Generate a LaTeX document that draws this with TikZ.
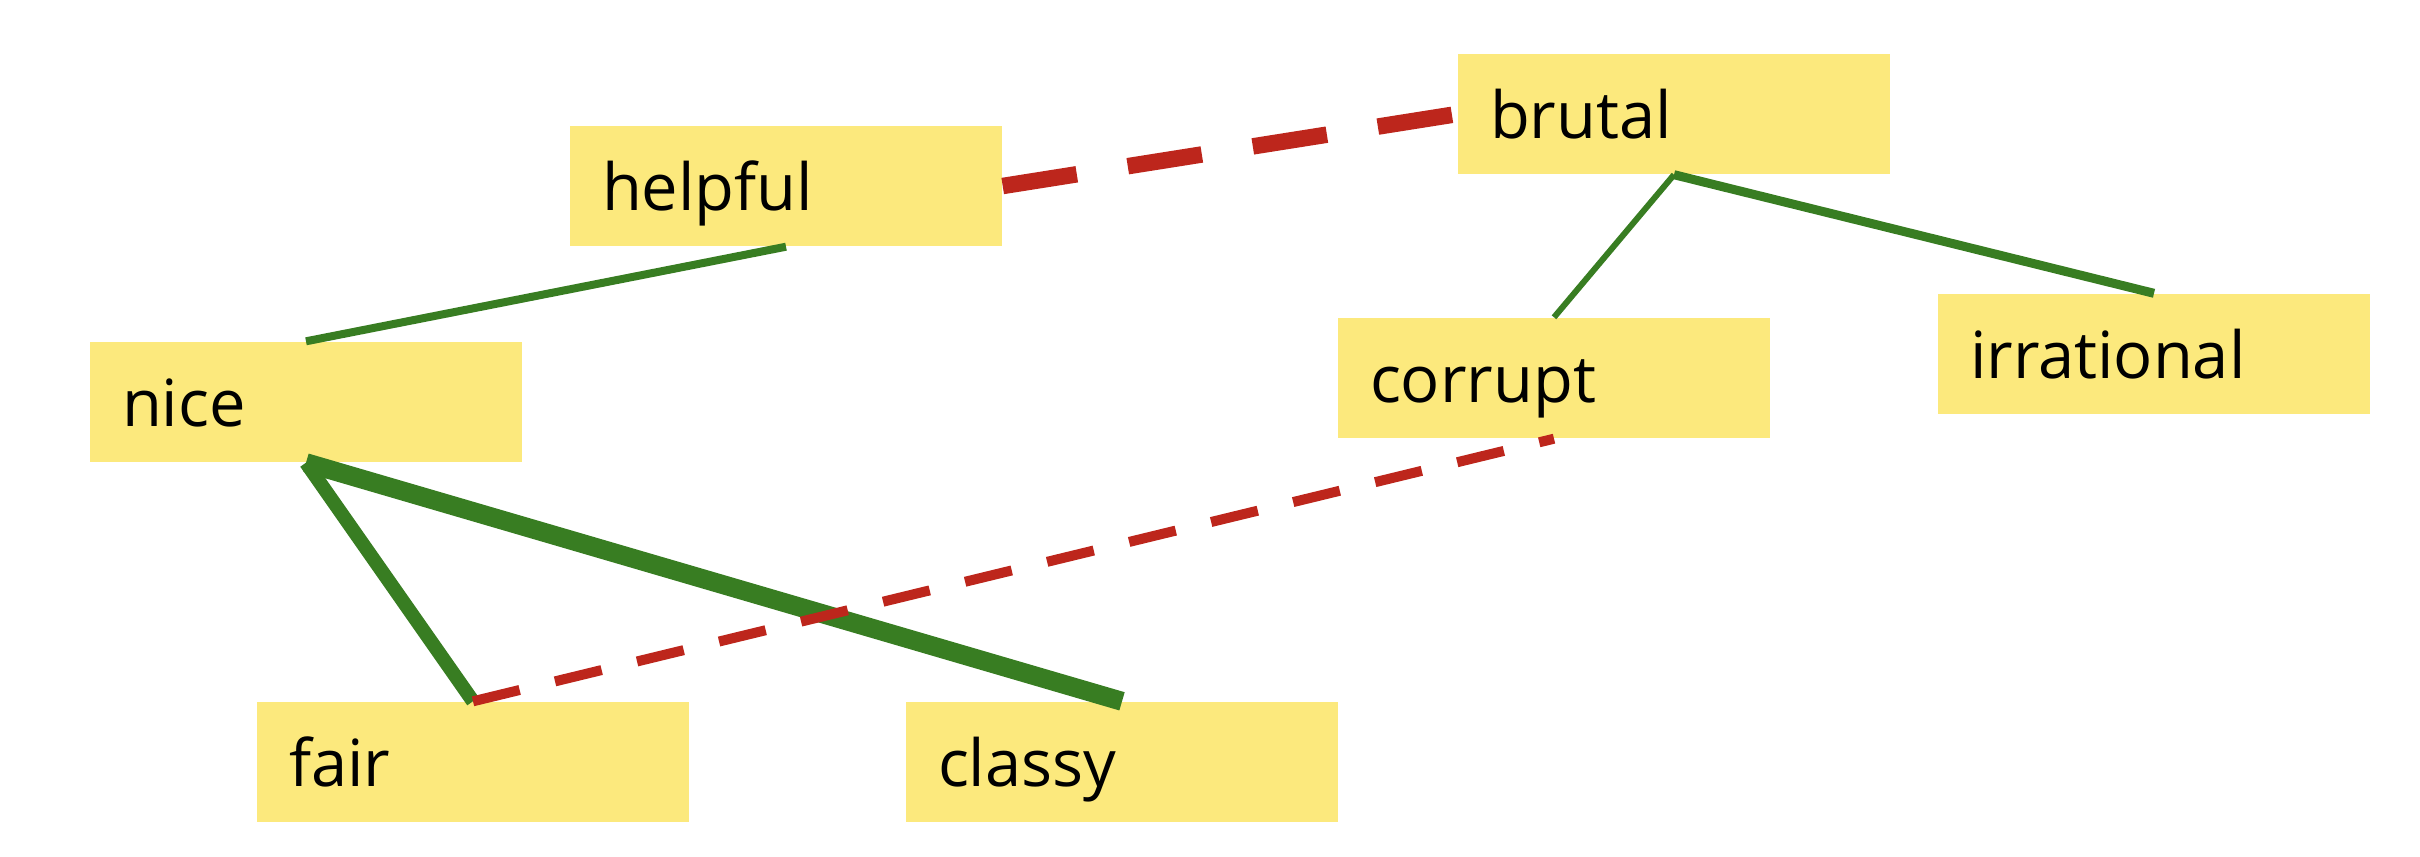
\documentclass[tikz,border=0pt]{standalone}
\usepackage{fontspec}
\setmainfont{Open Sans}
\usetikzlibrary{positioning}
\definecolor{wordyellow}{RGB}{252,233,125}
\definecolor{likegreen}{RGB}{56,125,34}
\definecolor{unlikered}{RGB}{189,38,28}

\begin{document}
\begin{tikzpicture}[
  font=\fontsize{18.5pt}{22pt}\selectfont,
  word/.style={rectangle, fill=wordyellow, minimum width=4.32cm, text width=3.68cm,
    inner xsep=0.32cm, inner ysep=0pt, text height=0.84cm, text depth=0.36cm, align=left},
  link/.style={draw=likegreen, line width=#1},
  clash/.style={draw=unlikered}
]
\useasboundingbox (0,0) rectangle (24.2,8.56);

\node[word] (helpful)    at (7.86,6.70)  {helpful};
\node[word] (brutal)     at (16.74,7.42) {brutal};
\node[word] (nice)       at (3.06,4.54)  {nice};
\node[word] (corrupt)    at (15.54,4.78) {corrupt};
\node[word] (irrational) at (21.54,5.02) {irrational};
\node[word] (fair)       at (4.73,0.94)  {fair};
\node[word] (classy)     at (11.22,0.94) {classy};

\draw[link=0.08cm] (helpful.south) -- (nice.north);
\draw[link=0.06cm] (brutal.south) -- (corrupt.north);
\draw[link=0.09cm] (brutal.south) -- (irrational.north);
\draw[link=0.14cm] (nice.south) -- (fair.north);
\draw[link=0.19cm] (nice.south) -- (classy.north);

\draw[clash, line width=0.165cm, dash pattern=on 0.75cm off 0.516cm] (helpful.east) -- (brutal.west);
\draw[clash, line width=0.10cm, dash pattern=on 0.48cm off 0.364cm] (fair.north) -- (corrupt.south);
\end{tikzpicture}
\end{document}
